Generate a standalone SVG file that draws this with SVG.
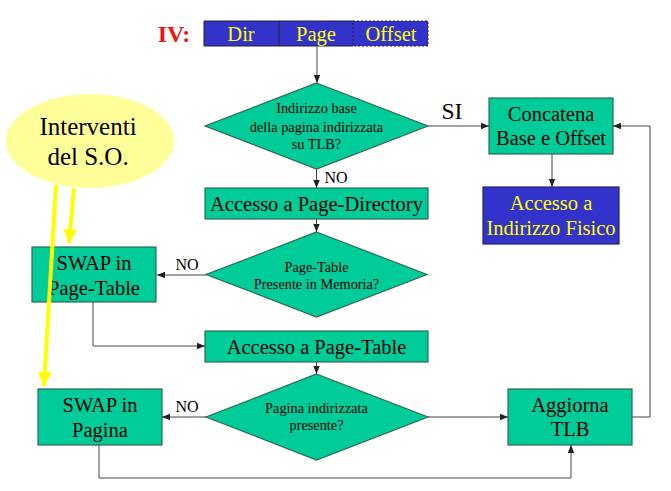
<svg xmlns="http://www.w3.org/2000/svg" width="671" height="491" viewBox="0 0 671 491">
<defs>
<marker id="ah" viewBox="0 0 10 10" refX="10" refY="5" markerWidth="8" markerHeight="8" markerUnits="userSpaceOnUse" orient="auto">
<path d="M0,1 L10,5 L0,9 z" fill="#222"/>
</marker>
<marker id="ya" viewBox="0 0 10 10" refX="10" refY="5" markerWidth="14" markerHeight="14" markerUnits="userSpaceOnUse" orient="auto">
<path d="M0,0 L10,5 L0,10 z" fill="#FFFF00"/>
</marker>
</defs>
<style>
text{font-family:"Liberation Serif","Times New Roman",serif;text-anchor:middle}
.g{fill:#00CC99;stroke:#336655;stroke-width:1.2}
.b{fill:#3333CC;stroke:#222266;stroke-width:1.2}
.c{fill:none;stroke:#444;stroke-width:1;marker-end:url(#ah)}
.y{fill:none;stroke:#FFFF00;stroke-width:4;marker-end:url(#ya)}
.t{font-size:20.5px;fill:#000}
.d{font-size:14.3px;fill:#000}
.l{font-size:16px;fill:#000}
.yt{font-size:20.5px;fill:#FFFF00}
</style>
<rect width="671" height="491" fill="#fff"/>
<g id="title">
<text x="174" y="42" style="font-size:24px;font-weight:bold;fill:#EE1111">IV:</text>
</g>
<g id="address">
<rect x="204" y="21" width="224" height="25" fill="#3333CC"/>
<path d="M204,46 L204,21 L353,21 M204,46 L353,46" fill="none" stroke="#222" stroke-width="1"/>
<path d="M353,21 L428,21 L428,46 L353,46 Z" fill="none" stroke="#222" stroke-width="1" stroke-dasharray="2,2"/>
<line x1="279" y1="21" x2="279" y2="46" stroke="#222" stroke-width="1"/>
<text class="yt" x="241" y="41">Dir</text>
<text class="yt" x="316" y="41">Page</text>
<text class="yt" x="391" y="41">Offset</text>
</g>
<g id="d1">
<polygon class="g" points="316.5,83 428,126 316.5,169 205,126"/>
<text class="d" x="316.5" y="113">Indirizzo base</text>
<text class="d" x="316.5" y="132">della pagina indirizzata</text>
<text class="d" x="316.5" y="149">su TLB?</text>
</g>
<g id="pagedir">
<rect class="g" x="205" y="188" width="223" height="31"/>
<text class="t" x="316.5" y="211">Accesso a Page-Directory</text>
</g>
<g id="d2">
<polygon class="g" points="316.5,232 427,274.5 316.5,317 206,274.5"/>
<text class="d" x="316.5" y="272">Page-Table</text>
<text class="d" x="316.5" y="289">Presente in Memoria?</text>
</g>
<g id="pagetable">
<rect class="g" x="205" y="331" width="223" height="31"/>
<text class="t" x="316.5" y="354">Accesso a Page-Table</text>
</g>
<g id="d3">
<polygon class="g" points="316.5,374 428,417 316.5,460 206,417"/>
<text class="d" x="316.5" y="413">Pagina indirizzata</text>
<text class="d" x="316.5" y="430">presente?</text>
</g>
<g id="swappt">
<rect class="g" x="32" y="247" width="124" height="55"/>
<text class="t" x="94" y="270">SWAP in</text>
<text class="t" x="94" y="295">Page-Table</text>
</g>
<g id="swappag">
<rect class="g" x="38" y="389" width="124" height="56"/>
<text class="t" x="100" y="412">SWAP in</text>
<text class="t" x="100" y="437">Pagina</text>
</g>
<g id="aggiorna">
<rect class="g" x="508" y="389" width="124" height="56"/>
<text class="t" x="570" y="412">Aggiorna</text>
<text class="t" x="570" y="436">TLB</text>
</g>
<g id="concatena">
<rect class="g" x="489" y="98" width="124" height="56"/>
<text class="t" x="551" y="121">Concatena</text>
<text class="t" x="551" y="145">Base e Offset</text>
</g>
<g id="fisico">
<rect class="b" x="483" y="187" width="136" height="57"/>
<text class="yt" x="551" y="210">Accesso a</text>
<text class="yt" x="551" y="235">Indirizzo Fisico</text>
</g>
<g id="so">
<ellipse cx="90" cy="141" rx="84" ry="47" fill="#FFFF99"/>
<text x="88" y="135" style="font-size:25px;fill:#000">Interventi</text>
<text x="88" y="165" style="font-size:25px;fill:#000">del S.O.</text>
</g>
<g id="connectors">
<path class="c" d="M317,46 L317,83"/>
<path class="c" d="M316.5,169 L316.5,188"/>
<path class="c" d="M428,126 L489,126"/>
<path class="c" d="M552,154 L552,187"/>
<path class="c" d="M316.5,219 L316.5,232"/>
<path class="c" d="M206,275 L157,275"/>
<path class="c" d="M93,302 L93,346 L205,346"/>
<path class="c" d="M316.5,362 L316.5,374"/>
<path class="c" d="M206,417 L162,417"/>
<path class="c" d="M428,417 L508,417"/>
<path class="c" d="M99,445 L99,478 L571,478 L571,445"/>
<path class="c" d="M632,417 L650,417 L650,126 L613,126"/>
<path class="y" d="M56,185 L44,386"/>
<path class="y" d="M74,188 L69,243"/>
</g>
<g id="labels">
<text class="l" x="336" y="183">NO</text>
<text x="452" y="119" style="font-size:23.5px;fill:#000">SI</text>
<text class="l" x="187" y="270">NO</text>
<text class="l" x="187" y="412">NO</text>
</g>
</svg>
